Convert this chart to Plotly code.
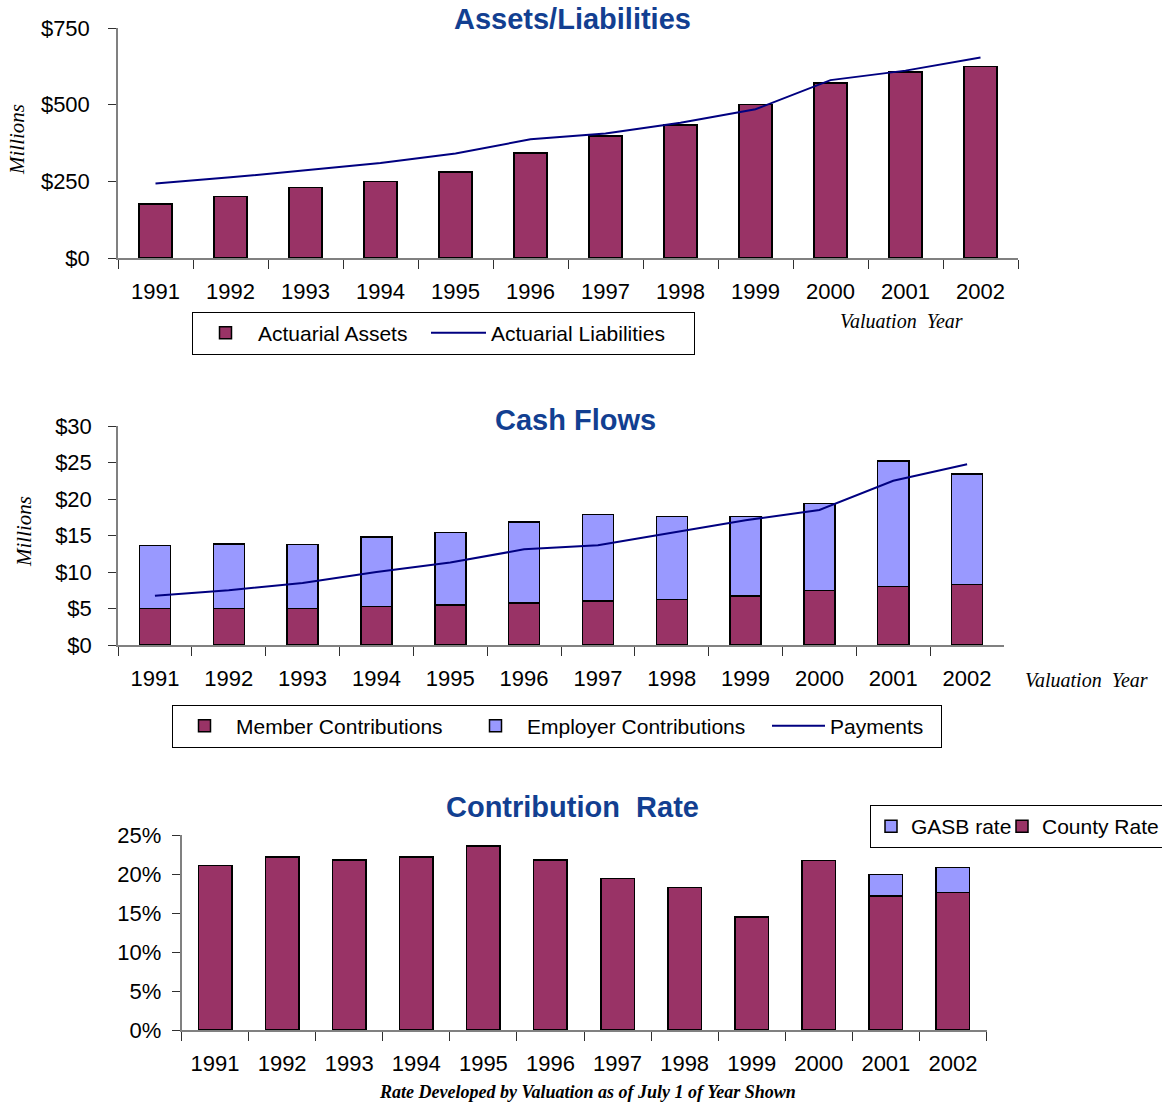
import plotly.graph_objects as go

# ---------------- data ----------------
years = ["1991", "1992", "1993", "1994", "1995", "1996",
         "1997", "1998", "1999", "2000", "2001", "2002"]

# Assets / Liabilities ($ millions)
actuarial_assets = [176, 200, 230, 249, 280, 342, 398, 434, 501, 570, 607, 624]
actuarial_liabilities = [243, 263, 286, 310, 341, 387, 406, 441, 485, 580, 611, 654]

# Cash flows ($ millions)
member_contrib = [5.0, 5.0, 5.0, 5.25, 5.5, 5.75, 6.0, 6.25, 6.7, 7.5, 8.0, 8.3]
employer_contrib = [8.6, 8.85, 8.8, 9.55, 9.9, 11.1, 11.85, 11.35, 10.9, 11.9, 17.2, 15.1]
payments = [6.75, 7.5, 8.5, 10.0, 11.3, 13.1, 13.65, 15.4, 17.1, 18.5, 22.5, 24.75]

# Contribution rate (%)
county_rate = [21.1, 22.2, 21.8, 22.2, 23.6, 21.8, 19.45, 18.3, 14.5, 21.75, 17.2, 17.6]
gasb_rate = [0, 0, 0, 0, 0, 0, 0, 0, 0, 0, 2.75, 3.25]

# ---------------- styling ----------------
W, H = 1162, 1103
PLUM = "#993366"
LAV = "#9999FF"
NAVY = "#000080"
TITLE_BLUE = "#123F91"
SANS = "Liberation Sans, Arial, sans-serif"
SERIF = "Liberation Serif, Times New Roman, serif"


def px_x(v):
    return v / W


def px_y(v):
    return 1 - v / H


fig = go.Figure()

bar_line = dict(color="black", width=1.5)

# Top chart
fig.add_trace(go.Bar(x=years, y=actuarial_assets, name="Actuarial Assets",
                     marker=dict(color=PLUM, line=bar_line), width=0.44,
                     xaxis="x", yaxis="y", legend="legend", legendwidth=163))
fig.add_trace(go.Scatter(x=years, y=actuarial_liabilities, name="Actuarial Liabilities",
                         mode="lines", line=dict(color=NAVY, width=2),
                         xaxis="x", yaxis="y", legend="legend", legendwidth=198))

# Middle chart
fig.add_trace(go.Bar(x=years, y=member_contrib, name="Member Contributions",
                     marker=dict(color=PLUM, line=bar_line), width=0.42,
                     xaxis="x2", yaxis="y2", legend="legend2", legendwidth=223))
fig.add_trace(go.Bar(x=years, y=employer_contrib, name="Employer Contributions",
                     marker=dict(color=LAV, line=bar_line), width=0.42,
                     xaxis="x2", yaxis="y2", legend="legend2", legendwidth=235))
fig.add_trace(go.Scatter(x=years, y=payments, name="Payments",
                         mode="lines", line=dict(color=NAVY, width=2),
                         xaxis="x2", yaxis="y2", legend="legend2", legendwidth=106))

# Bottom chart
fig.add_trace(go.Bar(x=years, y=county_rate, name="County Rate",
                     marker=dict(color=PLUM, line=bar_line), width=0.5,
                     xaxis="x3", yaxis="y3", legend="legend3"))
fig.add_trace(go.Bar(x=years, y=gasb_rate, name="GASB rate",
                     marker=dict(color=LAV, line=bar_line), width=0.5,
                     xaxis="x3", yaxis="y3", legend="legend3", legendwidth=86))

axis_common = dict(showgrid=False, zeroline=False, showline=True,
                   linecolor="#808080", linewidth=1.5,
                   ticks="outside", tickcolor="#303030", tickwidth=1.2,
                   tickfont=dict(family=SANS, size=22, color="black"))

xaxis_common = dict(axis_common, type="category", tickson="boundaries",
                    ticklen=9, ticklabelstandoff=13)

fig.update_layout(
    width=W, height=H,
    margin=dict(l=0, r=0, t=0, b=0, autoexpand=False),
    paper_bgcolor="white", plot_bgcolor="white",
    barmode="stack",
    showlegend=True,
    font=dict(family=SANS, size=21, color="black"),
    xaxis=dict(xaxis_common, domain=[px_x(118), px_x(1018)], anchor="y"),
    yaxis=dict(axis_common, domain=[px_y(258), px_y(28)], anchor="x",
               range=[0, 750], tickmode="linear", tick0=0, dtick=250,
               tickprefix="$", showtickprefix="all",
               ticklen=8, ticklabelstandoff=14),
    xaxis2=dict(xaxis_common, domain=[px_x(118), px_x(1004)], anchor="y2"),
    yaxis2=dict(axis_common, domain=[px_y(645), px_y(426)], anchor="x2",
                range=[0, 30], tickmode="linear", tick0=0, dtick=5,
                tickprefix="$", showtickprefix="all",
                ticklen=8, ticklabelstandoff=12),
    xaxis3=dict(xaxis_common, domain=[px_x(181.5), px_x(986.5)], anchor="y3"),
    yaxis3=dict(axis_common, domain=[px_y(1030), px_y(835)], anchor="x3",
                range=[0, 25], tickmode="linear", tick0=0, dtick=5,
                ticksuffix="%", showticksuffix="all",
                ticklen=8, ticklabelstandoff=6),
    legend=dict(orientation="h", x=px_x(192), xanchor="left",
                y=px_y(333), yanchor="middle", bordercolor="black", borderwidth=1,
                font=dict(family=SANS, size=21), itemwidth=55, traceorder="normal",
                bgcolor="white"),
    legend2=dict(orientation="h", x=px_x(172), xanchor="left",
                 y=px_y(726), yanchor="middle", bordercolor="black", borderwidth=1,
                 font=dict(family=SANS, size=21), itemwidth=53, traceorder="normal",
                 bgcolor="white"),
    legend3=dict(orientation="h", x=px_x(870), xanchor="left",
                 y=px_y(805), yanchor="top", bordercolor="black", borderwidth=1,
                 font=dict(family=SANS, size=21), itemwidth=30, traceorder="reversed",
                 bgcolor="white"),
)

annotations = [
    dict(text="<b>Assets/Liabilities</b>", x=572, y=19, size=29, family=SANS, color=TITLE_BLUE, angle=0),
    dict(text="<b>Cash Flows</b>", x=575, y=420, size=29, family=SANS, color=TITLE_BLUE, angle=0),
    dict(text="<b>Contribution  Rate</b>", x=572, y=807, size=29, family=SANS, color=TITLE_BLUE, angle=0),
    dict(text="<i>Millions</i>", x=17, y=140, size=21, family=SERIF, color="black", angle=-90),
    dict(text="<i>Millions</i>", x=24, y=532, size=21, family=SERIF, color="black", angle=-90),
    dict(text="<i>Valuation  Year</i>", x=901, y=321, size=20, family=SERIF, color="black", angle=0),
    dict(text="<i>Valuation  Year</i>", x=1086, y=680, size=20, family=SERIF, color="black", angle=0),
    dict(text="<b><i>Rate Developed by Valuation as of July 1 of Year Shown</i></b>", x=587, y=1092,
         size=18, family=SERIF, color="black", angle=0),
]
for a in annotations:
    fig.add_annotation(text=a["text"], xref="paper", yref="paper",
                       x=px_x(a["x"]), y=px_y(a["y"]), xanchor="center", yanchor="middle",
                       showarrow=False, textangle=a["angle"],
                       font=dict(family=a["family"], size=a["size"], color=a["color"]))

fig.write_html("out.html", config={"displayModeBar": False},
               post_script="document.body.style.margin='0';")
